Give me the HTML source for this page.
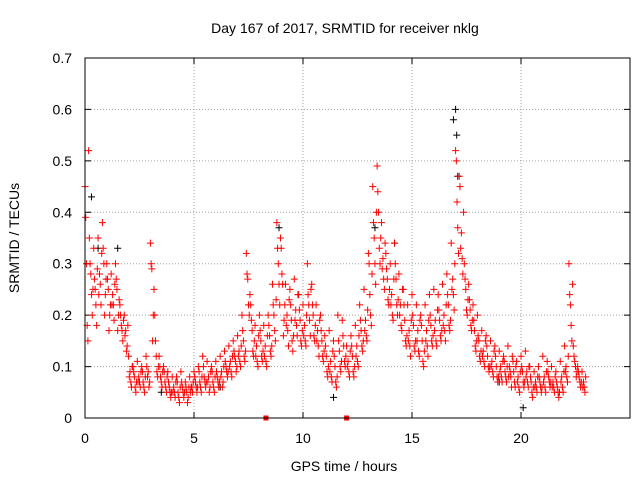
<!DOCTYPE html>
<html><head><meta charset="utf-8"><style>
body{margin:0;background:#fff}
svg{display:block;font-family:"Liberation Sans",sans-serif}
</style></head><body>
<svg id="chart" width="640" height="480" viewBox="0 0 640 480" xmlns="http://www.w3.org/2000/svg">
<rect width="640" height="480" fill="#fff"/>
<text x="345" y="33" font-size="14" text-anchor="middle">Day 167 of 2017, SRMTID for receiver nklg</text>
<text transform="translate(19,238) rotate(-90)" font-size="14" text-anchor="middle">SRMTID / TECUs</text>
<text x="344" y="471" font-size="14" text-anchor="middle">GPS time / hours</text>
<g id="grid"></g>
<g id="ticks"></g>
<g id="marks"></g>
<rect x="85" y="58" width="545" height="360" fill="none" stroke="#000" stroke-width="1"/>
</svg>
<script>
const xTicks=[0,5,10,15,20];
const yTicks=[0,0.1,0.2,0.3,0.4,0.5,0.6,0.7];
const yTickLabels=["0","0.1","0.2","0.3","0.4","0.5","0.6","0.7"];
const times=[];for(let i=0;i<115;i++)times.push(+(i*0.2).toFixed(1));
const redA=[.45,.35,.33,.35,.38,.30,.28,.30,.22,.20,.12,.10,.11,.10,.12,.34,.20,.12,.10,.09,.08,.08,.09,.07,.08,.09,.10,.12,.11,.10,.11,.12,.13,.14,.15,.16,.20,.32,.22,.18,.20,.18,.20,.26,.38,.33,.26,.25,.27,.24,.22,.30,.26,.22,.20,.16,.17,.15,.20,.19,.14,.16,.18,.22,.25,.32,.45,.49,.38,.32,.30,.34,.28,.25,.22,.24,.22,.20,.22,.24,.25,.24,.26,.28,.34,.52,.45,.30,.26,.22,.20,.17,.16,.15,.14,.13,.12,.14,.12,.11,.12,.13,.10,.09,.10,.12,.11,.10,.09,.11,.14,.30,.14,.10,.09];
const redB=[.30,.28,.25,.28,.30,.25,.24,.25,.18,.17,.09,.08,.08,.07,.08,.29,.12,.08,.07,.06,.06,.05,.06,.05,.06,.07,.07,.08,.08,.07,.08,.09,.10,.11,.12,.13,.15,.27,.17,.14,.15,.14,.16,.20,.30,.26,.20,.19,.21,.19,.18,.22,.20,.17,.15,.12,.11,.10,.13,.14,.11,.12,.14,.17,.19,.24,.35,.40,.31,.27,.24,.27,.22,.19,.17,.18,.17,.15,.17,.18,.19,.19,.20,.22,.27,.42,.36,.25,.21,.17,.15,.13,.12,.11,.10,.10,.09,.10,.09,.08,.09,.09,.07,.07,.07,.08,.08,.07,.06,.08,.10,.22,.11,.08,.07];
const redC=[.15,.20,.18,.22,.24,.20,.19,.20,.15,.14,.06,.05,.06,.05,.06,.20,.08,.06,.05,.04,.04,.03,.04,.04,.05,.05,.05,.06,.06,.05,.06,.07,.08,.08,.09,.10,.11,.20,.12,.10,.11,.10,.12,.15,.22,.19,.14,.13,.16,.14,.14,.16,.15,.12,.11,.08,.07,.06,.09,.10,.08,.08,.10,.13,.15,.18,.26,.30,.25,.22,.19,.20,.17,.14,.12,.13,.12,.10,.12,.14,.14,.15,.15,.17,.21,.32,.28,.20,.17,.13,.11,.10,.09,.08,.07,.07,.07,.08,.06,.05,.06,.06,.04,.05,.05,.05,.06,.05,.04,.05,.07,.15,.08,.06,.05];
const redD=[.52,.25,.29,.32,.27,.22,.26,.23,.19,.18,.10,.07,.09,.08,.07,.25,.10,.09,.08,.05,.07,.06,.05,.06,.07,.06,.08,.07,.09,.08,.07,.10,.09,.12,.10,.14,.13,.24,.15,.16,.13,.16,.14,.23,.35,.22,.23,.16,.24,.17,.20,.25,.18,.19,.13,.10,.13,.08,.11,.12,.13,.10,.16,.15,.21,.28,.40,.35,.34,.25,.27,.23,.25,.16,.19,.15,.19,.13,.19,.16,.21,.17,.22,.19,.30,.47,.40,.23,.19,.15,.13,.15,.10,.13,.08,.11,.10,.06,.10,.09,.07,.10,.06,.08,.06,.09,.07,.08,.05,.09,.12,.26,.09,.07,.08];
const redE=[.39,.30,.27,.24,.33,.27,.22,.27,.20,.16,.08,.09,.07,.09,.10,.30,.15,.10,.09,.07,.05,.07,.07,.06,.05,.08,.09,.10,.07,.09,.09,.08,.11,.10,.13,.12,.17,.28,.19,.12,.17,.12,.18,.22,.33,.28,.18,.22,.19,.21,.16,.24,.22,.15,.17,.14,.09,.12,.15,.16,.10,.14,.12,.19,.17,.30,.38,.44,.29,.29,.22,.30,.20,.22,.15,.20,.15,.18,.15,.20,.17,.21,.18,.24,.25,.50,.33,.27,.23,.19,.16,.12,.14,.10,.12,.09,.11,.08,.11,.07,.10,.08,.08,.06,.08,.07,.09,.06,.07,.07,.09,.24,.12,.09,.06];
const redF=[.18,.24,.22,.26,.20,.17,.22,.17,.17,.13,.07,.06,.07,.06,.09,.15,.09,.07,.06,.05,.05,.04,.05,.03,.06,.06,.06,.07,.05,.06,.07,.06,.09,.09,.11,.11,.12,.22,.13,.11,.12,.11,.13,.17,.26,.16,.17,.15,.18,.15,.15,.19,.16,.14,.12,.09,.08,.07,.10,.11,.09,.09,.11,.14,.16,.20,.30,.33,.27,.23,.20,.22,.18,.15,.14,.14,.13,.11,.14,.15,.15,.16,.17,.18,.24,.37,.31,.21,.18,.14,.12,.11,.10,.09,.08,.08,.08,.09,.07,.06,.07,.07,.05,.06,.06,.06,.07,.06,.05,.06,.08,.18,.10,.07,.06];
const blackTimes=[0.3,0.6,1.5,8.9,13.3,14.2,16.9,17.0,17.05,17.1,11.4,20.1,3.5,6.2,19.0];
const blackValues=[.43,.33,.33,.37,.37,.34,.58,.60,.55,.47,.04,.02,.05,.06,.07];
const zeroTimes=[8.3,12.0];
const zeroValues=[0,0];

const X0=85,X1=630,Y0=418,Y1=58,XMAX=25,YMAX=0.7;
const sx=v=>X0+v/XMAX*(X1-X0);
const sy=v=>Y0-v/YMAX*(Y0-Y1);
const NS='http://www.w3.org/2000/svg';
function mk(tag,parent){const e=document.createElementNS(NS,tag);parent.appendChild(e);return e;}
const grid=document.getElementById('grid'),ticks=document.getElementById('ticks'),marks=document.getElementById('marks');
xTicks.forEach(t=>{
  const x=sx(t);
  if(t>0){const l=mk('line',grid);l.setAttribute('x1',x);l.setAttribute('x2',x);l.setAttribute('y1',Y1);l.setAttribute('y2',Y0);l.setAttribute('stroke','#a0a0a0');l.setAttribute('stroke-dasharray','1,2');
  
  }
  const tk=mk('path',ticks);tk.setAttribute('d',`M${x},${Y0}v-6M${x},${Y1}v6`);tk.setAttribute('stroke','#000');
  
  
  const tx=mk('text',ticks);tx.setAttribute('x',x);tx.setAttribute('y',Y0+25);tx.setAttribute('text-anchor','middle');tx.setAttribute('font-size','14');tx.textContent=t;
  
  
});
yTicks.forEach((t,i)=>{
  const y=sy(t);
  if(t>0&&t<YMAX){const l=mk('line',grid);l.setAttribute('x1',X0);l.setAttribute('x2',X1);l.setAttribute('y1',y);l.setAttribute('y2',y);l.setAttribute('stroke','#a0a0a0');l.setAttribute('stroke-dasharray','1,2');
  
  }
  const tk=mk('path',ticks);tk.setAttribute('d',`M${X0},${y}h6M${X1},${y}h-6`);tk.setAttribute('stroke','#000');
  
  
  const tx=mk('text',ticks);tx.setAttribute('x',X0-13);tx.setAttribute('y',y+5);tx.setAttribute('text-anchor','end');tx.setAttribute('font-size','14');tx.textContent=yTickLabels[i];
  
  
});
function plus(ts,vs,off){let d='';for(let i=0;i<ts.length;i++){const x=sx(ts[i]+off),y=sy(vs[i]);d+=`M${x-3.5},${y}h7M${x},${y-3.5}v7`;}return d;}
const bp=mk('path',marks);bp.setAttribute('d',plus(blackTimes,blackValues,0));bp.setAttribute('stroke','#000');bp.setAttribute('fill','none');


[[redA,0],[redE,0.033],[redB,0.066],[redF,0.1],[redC,0.133],[redD,0.166]].forEach(s=>{
  const p=mk('path',marks);p.setAttribute('d',plus(times,s[0],s[1]));p.setAttribute('stroke','#ff0000');p.setAttribute('fill','none');
  
  
});
zeroTimes.forEach((t,i)=>{
  const r=mk('rect',marks);r.setAttribute('x',sx(t)-2.5);r.setAttribute('y',sy(zeroValues[i])-2.5);r.setAttribute('width',5);r.setAttribute('height',5);r.setAttribute('fill','#ff0000');
  
  
});
</script>
</body></html>
